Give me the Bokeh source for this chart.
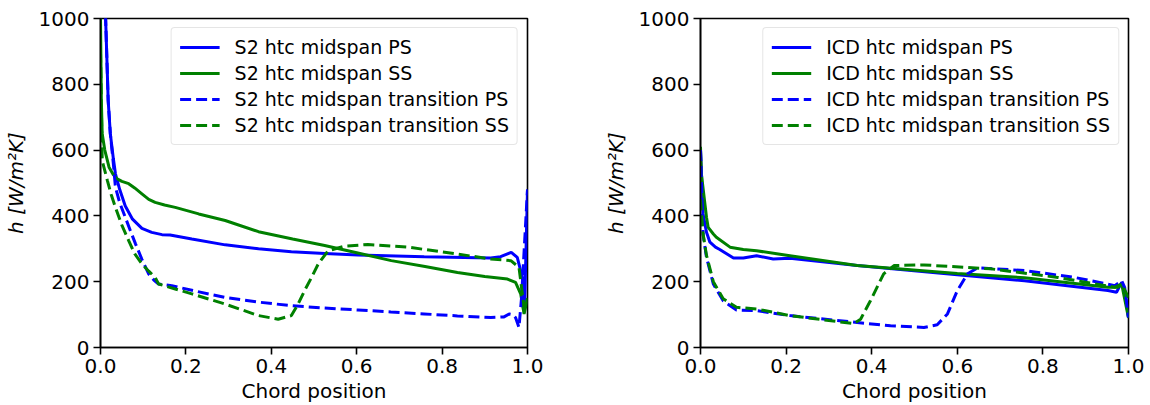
from bokeh.plotting import figure
from bokeh.layouts import row
from bokeh.models import Range1d, FixedTicker, Legend, LegendItem
from bokeh.embed import file_html
from bokeh.resources import INLINE

# ---------------- data: left panel (S2) ----------------
s2_ps_x = [0.003, 0.012, 0.018, 0.023, 0.03, 0.035, 0.045, 0.058, 0.075, 0.097, 0.12, 0.144, 0.163,
           0.214, 0.292, 0.37, 0.447, 0.525, 0.603, 0.758, 0.914, 0.937, 0.962, 0.976, 0.988, 0.993, 1.0]
s2_ps_y = [1400, 1000, 750, 650, 575, 528, 480, 430, 390, 362, 350, 343, 342,
           330, 312, 300, 291, 286, 281, 276, 272, 276, 289, 274, 213, 112, 480]

s2_ss_x = [0.0, 0.002, 0.004, 0.01, 0.02, 0.03, 0.039, 0.05, 0.066, 0.08, 0.097, 0.113, 0.128, 0.15,
           0.175, 0.23, 0.292, 0.37, 0.45, 0.525, 0.6, 0.681, 0.76, 0.836, 0.9, 0.953, 0.972, 0.984,
           0.992, 1.0]
s2_ss_y = [1000, 750, 650, 600, 548, 525, 513, 505, 498, 485, 467, 450, 441, 433,
           426, 406, 386, 352, 330, 310, 288, 264, 246, 228, 216, 208, 198, 163,
           102, 150]

s2_tps_x = [0.003, 0.012, 0.018, 0.023, 0.03, 0.035, 0.045, 0.058, 0.07, 0.082, 0.097, 0.113, 0.125,
            0.136, 0.167, 0.22, 0.292, 0.37, 0.447, 0.525, 0.603, 0.68, 0.758, 0.836, 0.914, 0.945,
            0.957, 0.965, 0.972, 0.98, 0.986, 1.0]
s2_tps_y = [1400, 1000, 750, 650, 560, 487, 440, 396, 355, 315, 268, 223, 205,
            193, 188, 172, 152, 138, 127, 120, 114, 108, 102, 96, 91, 93,
            102, 100, 91, 61, 150, 480]

s2_tss_x = [0.0, 0.004, 0.016, 0.025, 0.035, 0.05, 0.066, 0.08, 0.097, 0.113, 0.128, 0.136, 0.175,
            0.214, 0.292, 0.37, 0.416, 0.447, 0.462, 0.478, 0.495, 0.51, 0.533, 0.572, 0.626, 0.72,
            0.836, 0.914, 0.961, 0.98, 0.992, 1.0]
s2_tss_y = [900, 568, 508, 465, 426, 372, 325, 285, 254, 232, 213, 193, 178,
            163, 132, 97, 86, 97, 130, 173, 215, 254, 294, 308, 313, 305,
            284, 269, 264, 244, 122, 140]

# ---------------- data: right panel (ICD) ----------------
icd_ps_x = [0.0, 0.006, 0.014, 0.022, 0.035, 0.045, 0.061, 0.077, 0.1, 0.131, 0.17, 0.209, 0.366,
            0.6, 0.757, 0.952, 0.972, 0.984, 0.991, 1.0]
icd_ps_y = [600, 406, 350, 320, 305, 298, 285, 272, 272, 279, 269, 271, 249,
            221, 203, 173, 168, 198, 173, 91]

icd_ss_x = [0.0, 0.002, 0.014, 0.018, 0.03, 0.037, 0.069, 0.1, 0.131, 0.209, 0.366, 0.6, 0.757,
            0.952, 0.975, 0.984, 1.0]
icd_ss_y = [610, 528, 396, 365, 345, 335, 305, 298, 294, 279, 249, 225, 212,
            183, 183, 193, 90]

icd_tps_x = [0.0, 0.006, 0.014, 0.03, 0.053, 0.084, 0.131, 0.209, 0.366, 0.444, 0.522, 0.553, 0.577,
             0.6, 0.624, 0.647, 0.757, 0.874, 0.968, 0.984, 0.991, 1.0]
icd_tps_y = [600, 345, 274, 193, 142, 114, 112, 97, 76, 66, 61, 69, 102,
             173, 224, 242, 234, 213, 188, 203, 183, 91]

icd_tss_x = [0.0, 0.006, 0.014, 0.03, 0.053, 0.084, 0.131, 0.209, 0.3, 0.358, 0.374, 0.397, 0.428,
             0.452, 0.522, 0.679, 0.835, 0.968, 0.984, 1.0]
icd_tss_y = [450, 345, 280, 200, 148, 122, 117, 97, 82, 73, 86, 142, 224,
             249, 251, 239, 213, 183, 193, 152]

x_ticks = [0.0, 0.2, 0.4, 0.6, 0.8, 1.0]
x_tick_labels = ["0.0", "0.2", "0.4", "0.6", "0.8", "1.0"]
y_ticks = [0, 200, 400, 600, 800, 1000]

BLUE = "#0000ff"
GREEN = "#008000"
FONT = "DejaVu Sans"
FS = "20px"


def make_panel(prefix, series, width, left, right):
    p = figure(width=width, height=405, output_backend="svg", toolbar_location=None,
               x_range=Range1d(0, 1), y_range=Range1d(0, 1000),
               min_border_left=left, min_border_right=right,
               min_border_top=18, min_border_bottom=58)
    p.background_fill_color = "white"
    p.border_fill_color = "white"
    p.xgrid.visible = False
    p.ygrid.visible = False
    p.outline_line_color = "black"
    p.outline_line_width = 1.6
    p.outline_line_alpha = 1.0

    for ax in (p.xaxis[0], p.yaxis[0]):
        ax.axis_line_width = 1.6
        ax.major_tick_line_width = 1.6
        ax.major_tick_out = 7
        ax.major_tick_in = 0
        ax.minor_tick_line_color = None
        ax.major_label_text_font = FONT
        ax.major_label_text_font_size = FS
        ax.major_label_text_color = "black"
        ax.axis_label_text_font = FONT
        ax.axis_label_text_font_size = FS
        ax.axis_label_text_color = "black"
        ax.axis_label_text_font_style = "normal"

    p.xaxis.ticker = FixedTicker(ticks=x_ticks)
    p.xaxis.major_label_overrides = {t: l for t, l in zip(x_ticks, x_tick_labels)}
    p.xaxis.major_label_standoff = 4
    p.xaxis.axis_label = "Chord position"
    p.xaxis.axis_label_standoff = 3

    p.yaxis.ticker = FixedTicker(ticks=y_ticks)
    p.yaxis.major_label_standoff = 4
    p.yaxis.axis_label = "h [W/m²K]"
    p.yaxis.axis_label_text_font_style = "italic"
    p.yaxis.axis_label_standoff = 8

    items = []
    names = [" htc midspan PS", " htc midspan SS",
             " htc midspan transition PS", " htc midspan transition SS"]
    styles = [(BLUE, "solid"), (GREEN, "solid"), (BLUE, "11 5"), (GREEN, "11 5")]
    for (xs, ys), name, (col, dash) in zip(series, names, styles):
        r = p.line(xs, ys, line_color=col, line_width=3, line_dash=dash)
        items.append(LegendItem(label=prefix + name, renderers=[r]))

    leg = Legend(items=items, location="top_right")
    leg.margin = 9
    leg.padding = 8
    leg.spacing = 4
    leg.glyph_width = 40
    leg.glyph_height = 20
    leg.label_height = 20
    leg.label_standoff = 15
    leg.label_text_font = FONT
    leg.label_text_font_size = "19px"
    leg.label_text_color = "black"
    leg.border_line_color = "#cccccc"
    leg.border_line_width = 1.5
    leg.border_radius = 4
    leg.background_fill_color = "white"
    leg.background_fill_alpha = 0.8
    p.add_layout(leg, "center")
    return p


p1 = make_panel("S2", [(s2_ps_x, s2_ps_y), (s2_ss_x, s2_ss_y),
                       (s2_tps_x, s2_tps_y), (s2_tss_x, s2_tss_y)], 600, 98, 73)
p2 = make_panel("ICD", [(icd_ps_x, icd_ps_y), (icd_ss_x, icd_ss_y),
                        (icd_tps_x, icd_tps_y), (icd_tss_x, icd_tss_y)], 550, 100, 22)

layout = row(p1, p2)
open("out.html", "w").write(file_html(layout, INLINE))
